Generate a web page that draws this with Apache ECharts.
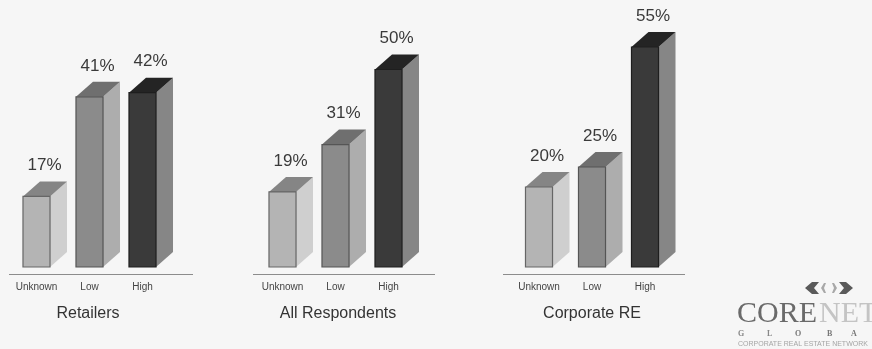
<!DOCTYPE html>
<html><head><meta charset="utf-8">
<style>html,body{margin:0;padding:0;background:#f6f6f6}#c{width:872px;height:349px}</style>
<script src="https://cdn.jsdelivr.net/npm/echarts@6/dist/echarts.min.js"></script>
</head><body><div id="c"></div>
<script>
var categories = ['Unknown', 'Low', 'High'];
var retailers = [17, 41, 42];
var allRespondents = [19, 31, 50];
var corporateRE = [20, 25, 55];
var panelTitles = ['Retailers', 'All Respondents', 'Corporate RE'];
var panelValues = [retailers, allRespondents, corporateRE];

// layout: bands of 53px; a 60% axis occupies a panel-specific height above the base line
var gridLeft = [10, 256, 512.5];
var gridHeight = [249, 237, 240];
var ruleSpan = [[9, 193], [253, 435], [503, 685]];
var titleCentre = [88, 338, 592];
var baseY = 267, ruleY = 274.5, bandW = 53, depthX = 17, depthY = 15;

var faceFill = ['#b4b4b4', '#8b8b8b', '#3a3a3a'];
var sideFill = ['#cfcfcf', '#adadad', '#868686'];
var topFill = ['#858585', '#6f6f6f', '#242424'];
var edge = ['#666666', '#555555', '#1e1e1e'];

function renderBar(params, api) {
  var i = api.value(0), v = api.value(1);
  var top = api.coord([i, v]), base = api.coord([i, 0]);
  var w = api.size([1, 0])[0] * 0.51;
  var x0 = top[0] - w / 2, x1 = top[0] + w / 2, yT = top[1], yB = base[1];
  return {
    type: 'group',
    children: [
      { type: 'polygon', shape: { points: [[x1, yT], [x1 + depthX, yT - depthY], [x1 + depthX, yB - depthY], [x1, yB]] },
        style: { fill: sideFill[i] } },
      { type: 'polygon', shape: { points: [[x0, yT], [x0 + depthX, yT - depthY], [x1 + depthX, yT - depthY], [x1, yT]] },
        style: { fill: topFill[i] } },
      { type: 'rect', shape: { x: x0, y: yT, width: w, height: yB - yT },
        style: { fill: faceFill[i], stroke: edge[i], lineWidth: 1.2 } },
      { type: 'text', style: { text: v + '%', x: top[0] + 8, y: yT - depthY - 16, align: 'center', verticalAlign: 'middle',
        fill: '#3a3a3a', font: '17px "Liberation Sans", Arial, sans-serif' } }
    ]
  };
}

var grids = [], xAxes = [], yAxes = [], series = [], titles = [], graphics = [];
panelValues.forEach(function (vals, p) {
  grids.push({ left: gridLeft[p], width: bandW * 3, top: baseY - gridHeight[p], height: gridHeight[p] });
  xAxes.push({ gridIndex: p, type: 'category', data: categories,
    axisLine: { show: false }, axisTick: { show: false },
    axisLabel: { interval: 0, hideOverlap: false, margin: 15, fontSize: 10, color: '#444444', fontFamily: '"Liberation Sans", Arial, sans-serif' } });
  yAxes.push({ gridIndex: p, type: 'value', min: 0, max: 60, interval: 20, show: false, splitLine: { show: false } });
  series.push({ type: 'custom', name: panelTitles[p], xAxisIndex: p, yAxisIndex: p, clip: false,
    encode: { x: 0, y: 1 }, renderItem: renderBar,
    data: vals.map(function (v, i) { return [i, v]; }) });
  titles.push({ text: panelTitles[p], left: titleCentre[p], top: 306, textAlign: 'center', padding: 0,
    textStyle: { fontSize: 16, fontWeight: 'normal', color: '#333333', fontFamily: '"Liberation Sans", Arial, sans-serif' } });
  graphics.push({ type: 'line', shape: { x1: ruleSpan[p][0], y1: ruleY, x2: ruleSpan[p][1], y2: ruleY },
    style: { stroke: '#8c8c8c', lineWidth: 1 } });
});

// CoreNet Global logo
function chevron(pts, fill) { return { type: 'polygon', shape: { points: pts }, style: { fill: fill } }; }
function logoText(t, x, y, font, fill) {
  return { type: 'text', style: { text: t, x: x, y: y, font: font, fill: fill, verticalAlign: 'bottom' } };
}
graphics.push(
  chevron([[805, 288], [812, 282], [819, 282], [814, 288], [819, 294], [812, 294]], '#5a5a5a'),
  chevron([[821, 288], [824, 283], [826, 283], [824, 288], [826, 293], [824, 293]], '#a8a8a8'),
  chevron([[853, 288], [846, 282], [839, 282], [844, 288], [839, 294], [846, 294]], '#5a5a5a'),
  chevron([[837, 288], [834, 283], [832, 283], [834, 288], [832, 293], [834, 293]], '#a8a8a8'),
  logoText('CORE', 737, 329, '30px "Liberation Serif", serif', '#6a6a6a'),
  logoText('NET', 819, 329, '30px "Liberation Serif", serif', '#c4c4c4'),
  logoText('G', 738, 338, 'bold 8px "Liberation Serif", serif', '#888888'),
  logoText('L', 767, 338, 'bold 8px "Liberation Serif", serif', '#888888'),
  logoText('O', 795, 338, 'bold 8px "Liberation Serif", serif', '#777777'),
  logoText('B', 827, 338, 'bold 8px "Liberation Serif", serif', '#777777'),
  logoText('A', 851, 338, 'bold 8px "Liberation Serif", serif', '#777777'),
  logoText('CORPORATE REAL ESTATE NETWORK', 738, 348, '7px "Liberation Sans", sans-serif', '#a5a5a5')
);

var chart = echarts.init(document.getElementById('c'), null, { renderer: 'canvas' });
chart.setOption({
  animation: false,
  backgroundColor: '#f6f6f6',
  title: titles, grid: grids, xAxis: xAxes, yAxis: yAxes, series: series,
  graphic: { elements: graphics }
});
</script></body></html>
